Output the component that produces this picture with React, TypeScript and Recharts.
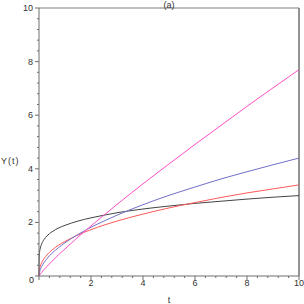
import React from "react";
import { LineChart, Line, XAxis, YAxis, ReferenceLine } from "recharts";

// sample points along t
const tValues = [0, 0.005, 0.02, 0.05, 0.1, 0.2, 0.3, 0.5, 0.75, 1, 1.5, 2, 2.5, 3, 4, 5, 6, 7, 8, 9, 10];
const blackValues = [0, 0.66, 0.87, 1.04, 1.19, 1.37, 1.49, 1.65, 1.79, 1.89, 2.05, 2.17, 2.27, 2.36, 2.5, 2.61, 2.71, 2.79, 2.87, 2.94, 3.0];
const redValues = [0, 0.14, 0.25, 0.37, 0.49, 0.66, 0.78, 0.97, 1.15, 1.29, 1.53, 1.73, 1.9, 2.05, 2.31, 2.54, 2.74, 2.93, 3.1, 3.25, 3.4];
const blueValues = [0, 0.07, 0.14, 0.24, 0.35, 0.51, 0.64, 0.85, 1.06, 1.24, 1.55, 1.82, 2.05, 2.27, 2.66, 3.01, 3.32, 3.62, 3.89, 4.15, 4.4];
const magentaValues = [0, 0.01, 0.03, 0.07, 0.13, 0.25, 0.35, 0.55, 0.79, 1.01, 1.45, 1.87, 2.27, 2.67, 3.44, 4.18, 4.91, 5.62, 6.33, 7.02, 7.7];

const axisTicks = [
  0, 0.4, 0.8, 1.2, 1.6, 2, 2.4, 2.8, 3.2, 3.6, 4, 4.4, 4.8, 5.2, 5.6, 6, 6.4, 6.8, 7.2, 7.6, 8, 8.4, 8.8, 9.2, 9.6, 10,
];

const data = tValues.map((t, i) => ({
  t,
  black: blackValues[i],
  red: redValues[i],
  blue: blueValues[i],
  magenta: magentaValues[i],
}));

const FONT = '"Liberation Sans", Arial, sans-serif';
const AXIS = "#6e6e6e";
const TEXT = "#333";

const isMajor = (v: number) => Math.abs(v - Math.round(v)) < 1e-6 && Math.round(v) % 2 === 0;

// eslint-disable-next-line @typescript-eslint/no-explicit-any
const YTick = (props: any) => {
  const { x, y, payload } = props;
  const v = payload.value as number;
  const major = isMajor(v);
  const len = major ? 4 : 2;
  return (
    <g>
      <line x1={x - len} x2={x} y1={y} y2={y} stroke={AXIS} strokeWidth={1} />
      {major && v !== 0 && (
        <text x={x - 6} y={y} textAnchor="end" dominantBaseline="central" fontSize={9} fontFamily={FONT} fill={TEXT}>
          {String(v)}
        </text>
      )}
    </g>
  );
};

// eslint-disable-next-line @typescript-eslint/no-explicit-any
const XTick = (props: any) => {
  const { x, y, payload } = props;
  const v = payload.value as number;
  const major = isMajor(v);
  const len = major ? 4 : 2;
  return (
    <g>
      <line x1={x} x2={x} y1={y} y2={y + len} stroke={AXIS} strokeWidth={1} />
      {major && v !== 0 && (
        <text x={x} y={y + 7} textAnchor="middle" dominantBaseline="central" fontSize={9} fontFamily={FONT} fill={TEXT}>
          {String(v)}
        </text>
      )}
    </g>
  );
};

const labelStyle: React.CSSProperties = {
  position: "absolute",
  fontFamily: FONT,
  fontSize: 9,
  color: TEXT,
  lineHeight: "10px",
  whiteSpace: "nowrap",
  zIndex: 5,
};

export default function App() {
  return (
    <div style={{ position: "absolute", left: 0, top: 0, width: 304, height: 304, background: "#fff" }}>
      <LineChart width={304} height={304} data={data} margin={{ top: 8, right: 5, bottom: 0, left: 0 }}>
        <XAxis
          dataKey="t"
          type="number"
          domain={[0, 10]}
          ticks={axisTicks}
          interval={0}
          height={28}
          tickSize={0}
          tickMargin={0}
          tickLine={false}
          stroke={AXIS}
          tick={<XTick />}
        />
        <YAxis
          type="number"
          domain={[0, 10]}
          ticks={axisTicks}
          interval={0}
          width={39}
          tickSize={0}
          tickMargin={0}
          tickLine={false}
          stroke={AXIS}
          tick={<YTick />}
        />
        <ReferenceLine y={10} stroke="#bdbdbd" strokeWidth={2} />
        <ReferenceLine x={10} stroke="#707070" strokeWidth={1.5} />
        <Line type="monotone" dataKey="black" stroke="#444" strokeWidth={1} dot={false} isAnimationActive={false} />
        <Line type="monotone" dataKey="red" stroke="#ff5a5a" strokeWidth={1} dot={false} isAnimationActive={false} />
        <Line type="monotone" dataKey="blue" stroke="#7070c8" strokeWidth={1} dot={false} isAnimationActive={false} />
        <Line type="monotone" dataKey="magenta" stroke="#ff4fc8" strokeWidth={1} dot={false} isAnimationActive={false} />
      </LineChart>
      <div style={{ ...labelStyle, left: 169, top: 0, transform: "translateX(-50%)" }}>(a)</div>
      <div style={{ ...labelStyle, left: 1, top: 156, letterSpacing: 1 }}>Y(t)</div>
      <div style={{ ...labelStyle, left: 169, top: 295, transform: "translateX(-50%)" }}>t</div>
      <div style={{ ...labelStyle, left: 29, top: 275, color: "#222" }}>0</div>
    </div>
  );
}
